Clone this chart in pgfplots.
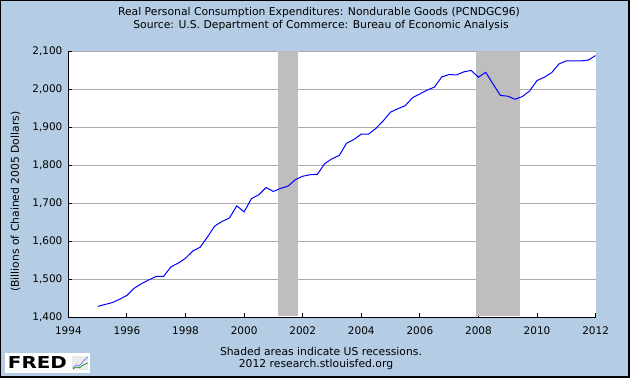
\documentclass[border=0pt]{standalone}
\usepackage{fontspec}
\setmainfont{DejaVu Sans}
\usepackage{pgfplots}
\pgfplotsset{compat=1.18}
\definecolor{fredbg}{RGB}{180,205,228}
\definecolor{recess}{RGB}{190,190,190}
\definecolor{gridc}{RGB}{170,170,170}
\newcommand{\fs}{\fontsize{10.5bp}{12bp}\selectfont}
\newcommand{\ft}{\fontsize{10.8bp}{12bp}\selectfont}
\begin{document}
\begin{tikzpicture}[x=1bp,y=1bp]
\fill[fredbg] (0,0) rectangle (630,378);
\begin{axis}[
  at={(68bp,61bp)}, anchor=south west,
  scale only axis, width=528bp, height=266bp,
  xmin=1994, xmax=2012, ymin=1400, ymax=2100,
  axis background/.style={fill=white},
  axis lines*=left,
  axis line style={-, black, line width=1bp},
  xtick={1994,1996,...,2012},
  ytick={1400,1500,...,2100},
  ymajorgrids,
  grid style={gridc, line width=1bp},
  tick align=inside,
  major tick length=4bp,
  tick style={black, line width=1bp},
  every tick label/.append style={font=\fs},
  /pgf/number format/assume math mode=true,
  xticklabel style={/pgf/number format/1000 sep=, yshift=-6bp},
  yticklabel style={/pgf/number format/1000 sep={,}, xshift=-2.5bp},
  clip=false,
]
\addplot[fill=recess, draw=none] coordinates {(2001.17,1401.5) (2001.83,1401.5) (2001.83,2100) (2001.17,2100)} -- cycle;
\addplot[fill=recess, draw=none] coordinates {(2007.92,1401.5) (2009.42,1401.5) (2009.42,2100) (2007.92,2100)} -- cycle;
\addplot[blue, line width=1bp, mark=none] table {
x y
1995.00 1428
1995.25 1433
1995.50 1438
1995.75 1447
1996.00 1457
1996.25 1476
1996.50 1488
1996.75 1498
1997.00 1507
1997.25 1507
1997.50 1532
1997.75 1542
1998.00 1555
1998.25 1574
1998.50 1584
1998.75 1611
1999.00 1640
1999.25 1652
1999.50 1661
1999.75 1693
2000.00 1677
2000.25 1712
2000.50 1722
2000.75 1741
2001.00 1731
2001.25 1739
2001.50 1745
2001.75 1762
2002.00 1771
2002.25 1775
2002.50 1776
2002.75 1804
2003.00 1817
2003.25 1826
2003.50 1858
2003.75 1868
2004.00 1882
2004.25 1882
2004.50 1897
2004.75 1917
2005.00 1940
2005.25 1949
2005.50 1957
2005.75 1978
2006.00 1988
2006.25 1998
2006.50 2006
2006.75 2033
2007.00 2039
2007.25 2038
2007.50 2046
2007.75 2050
2008.00 2032
2008.25 2045
2008.50 2014
2008.75 1984
2009.00 1982
2009.25 1974
2009.50 1981
2009.75 1996
2010.00 2023
2010.25 2032
2010.50 2044
2010.75 2067
2011.00 2075
2011.25 2075
2011.50 2075
2011.75 2077
2012.00 2089
};
\end{axis}
% titles
\node[anchor=base, font=\ft, inner sep=0] at (319,363) {Real Personal Consumption Expenditures: Nondurable Goods (PCNDGC96)};
\node[anchor=base, font=\ft, inner sep=0] at (321,349.7) {Source: U.S. Department of Commerce: Bureau of Economic Analysis};
% y label
\node[rotate=90, font=\ft, inner sep=0] at (15,176.5) {(Billions of Chained 2005 Dollars)};
% footnote
\node[anchor=base, font=\ft, inner sep=0] at (321,22) {Shaded areas indicate US recessions.};
\node[anchor=base, font=\ft, inner sep=0] at (316,10) {2012 research.stlouisfed.org};
% FRED logo
\fill[white] (5,4.7) rectangle (90,25.3);
\node[anchor=south west, inner sep=0] at (7.3,9) {\resizebox{59bp}{12bp}{\bfseries FRED}};
\fill[black!8] (72,8) rectangle (88,22);
\draw[blue!60, line width=0.6bp] (72.5,10) -- (76,13) -- (79,12) -- (83,17) -- (87.5,21);
\draw[green!50!black, line width=0.6bp] (72.5,9) -- (76,11) -- (79,10) -- (83,13) -- (87.5,15);
% frame
\draw[black, line width=1bp] (0.5,0.5) rectangle (629.5,377.5);
\draw[black, line width=1bp] (628.5,0) -- (628.5,378);
\draw[black, line width=1bp] (0,1.5) -- (630,1.5);
\end{tikzpicture}
\end{document}
